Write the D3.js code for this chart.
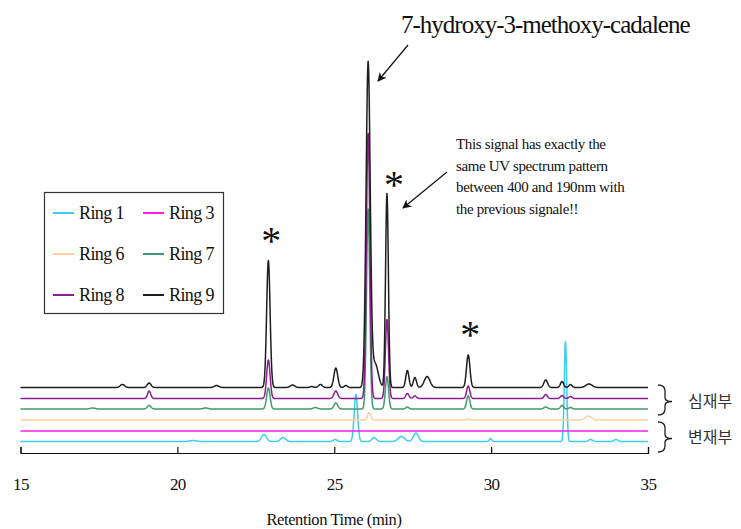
<!DOCTYPE html>
<html>
<head>
<meta charset="utf-8">
<script src="https://cdn.jsdelivr.net/npm/d3@7"></script>
<style>
  body { margin: 0; background: #fff; }
  svg { display: block; font-family: "Liberation Serif", "Times New Roman", serif; }
</style>
</head>
<body>
<svg id="chart"></svg>
<script>
// rings in legend order
const ringNames = ["Ring 1", "Ring 3", "Ring 6", "Ring 7", "Ring 8", "Ring 9"];
// stacked baseline of each trace (mAU above the axis)
const baselineOffsets = [11.5, 22, 33, 44, 54.5, 65.5];

// peak tables: [retention time (min), height (mAU), sigma (min)]
const ring1Peaks = [
  [20.5, 1, 0.1], [22.76, 7, 0.08], [23.37, 4, 0.08], [25.03, 2, 0.06], [25.69, 47, 0.055],
  [26.27, 4, 0.07], [27.14, 5, 0.1], [27.6, 8.5, 0.08], [29.98, 3, 0.04], [32.37, 100, 0.038],
  [33.17, 2, 0.06], [33.98, 2, 0.06]
];
const ring3Peaks = [];
const ring6Peaks = [[26.11, 7.5, 0.05], [29.27, 1, 0.05], [33.1, 4, 0.1]];
const ring7Peaks = [
  [17.3, 1, 0.08], [19.1, 3.5, 0.06], [20.9, 1, 0.08], [22.9, 21, 0.055], [24.4, 1.5, 0.07],
  [25.05, 6, 0.06], [26.08, 200, 0.05], [26.68, 32.5, 0.05], [27.33, 2, 0.05], [29.27, 13.3, 0.05],
  [31.74, 2, 0.06], [32.26, 3.6, 0.05], [32.53, 1.5, 0.05]
];
const ring8Peaks = [
  [19.1, 7.5, 0.05], [22.9, 38.5, 0.055], [25.05, 7.5, 0.06], [26.08, 265, 0.055],
  [26.68, 79, 0.05], [27.33, 5, 0.05], [27.57, 2.5, 0.05], [29.27, 12.5, 0.05],
  [31.74, 4, 0.05], [32.26, 3, 0.05], [32.53, 2, 0.05]
];
const ring9Peaks = [
  [18.25, 3, 0.07], [19.1, 4.5, 0.06], [21.25, 2, 0.07], [22.9, 127, 0.055], [23.67, 2.5, 0.07],
  [24.28, 1, 0.05], [24.56, 3, 0.06], [25.05, 19.5, 0.06], [25.37, 2, 0.05], [26.08, 324, 0.066],
  [26.3, 24, 0.1], [26.68, 194, 0.045], [27.33, 17, 0.05], [27.57, 10, 0.05], [27.96, 11, 0.09],
  [29.27, 32.5, 0.055], [31.74, 7.5, 0.06], [32.26, 6, 0.05], [32.53, 3, 0.05], [33.12, 3.5, 0.1]
];
const peakTables = [ring1Peaks, ring3Peaks, ring6Peaks, ring7Peaks, ring8Peaks, ring9Peaks];

const xTicks = [15, 20, 25, 30, 35];
const starredTimes = [22.9, 26.68, 29.27];
const compoundLabel = "7-hydroxy-3-methoxy-cadalene";
const noteLines = [
  "This signal has exactly the",
  "same UV spectrum pattern",
  "between 400 and 190nm with",
  "the previous signale!!"
];
const groupLabels = ["심재부", "변재부"];
const axisTitle = "Retention Time (min)";

const ringColors = ["#3ccdf4", "#ff1cf0", "#ffcf9e", "#3f9a6c", "#8d1d8e", "#1e1e1e"];

class Chromatogram {
  margin = { top: 53, right: 93, bottom: 76, left: 20.5 };

  constructor(svg, width = 741, height = 529) {
    this.svg = svg;
    this.width = width;
    this.height = height;
  }

  initialize() {
    this.svg = d3.select(this.svg)
      .attr("width", this.width)
      .attr("height", this.height);
    this.svg.append("rect").attr("width", this.width).attr("height", this.height).attr("fill", "#fff");

    const defs = this.svg.append("defs");
    defs.append("marker")
      .attr("id", "arrow")
      .attr("viewBox", "0 0 10 10")
      .attr("refX", 9).attr("refY", 5)
      .attr("markerWidth", 9).attr("markerHeight", 9)
      .attr("markerUnits", "userSpaceOnUse")
      .attr("orient", "auto")
      .append("path").attr("d", "M0,0 L10,5 L0,10 L3,5 z").attr("fill", "#111");

    this.xScale = d3.scaleLinear().domain([15, 35])
      .range([this.margin.left, this.width - this.margin.right]);
    this.yScale = d3.scaleLinear().domain([0, 400])
      .range([this.height - this.margin.bottom, this.margin.top]);
    this.zScale = d3.scaleOrdinal().domain(ringNames).range(ringColors);

    this.traces = this.svg.append("g");
    this.xAxis = this.svg.append("g");
    this.notes = this.svg.append("g");
    this.legend = this.svg.append("g");
  }

  signal(peaks, offset, t) {
    return offset + d3.sum(peaks, p => p[1] * Math.exp(-((t - p[0]) ** 2) / (2 * p[2] * p[2])));
  }

  update() {
    const times = d3.range(15, 35.0001, 0.01);
    const series = ringNames.map((name, i) => ({
      name,
      points: times.map(t => [t, this.signal(peakTables[i], baselineOffsets[i], t)])
    }));

    const line = d3.line().x(d => this.xScale(d[0])).y(d => this.yScale(d[1]));

    // legend order: Ring 9 ends up on top
    this.traces.selectAll("path")
      .data(series)
      .join("path")
      .attr("d", d => line(d.points))
      .attr("fill", "none")
      .attr("stroke", d => this.zScale(d.name))
      .attr("stroke-width", 1.5)
      .attr("stroke-linejoin", "round");

    // x axis, ticks pointing up into the plot
    this.xAxis
      .attr("transform", `translate(0, ${this.height - this.margin.bottom})`)
      .call(d3.axisBottom(this.xScale).tickValues(xTicks).tickSizeInner(-6).tickSizeOuter(-6).tickPadding(25));
    this.xAxis.select(".domain").attr("stroke", "#111").attr("stroke-width", 1.2);
    this.xAxis.selectAll(".tick line").attr("stroke", "#111").attr("stroke-width", 1.2);
    this.xAxis.selectAll(".tick text")
      .attr("font-family", "Liberation Serif, serif")
      .attr("font-size", 17).attr("letter-spacing", -0.6).attr("fill", "#111");

    this.svg.append("text")
      .attr("x", 334).attr("y", 525)
      .attr("text-anchor", "middle")
      .attr("font-size", 16.5).attr("letter-spacing", -0.4).attr("fill", "#111")
      .text(axisTitle);

    // asterisks above the marked Ring 9 peaks
    const black = peakTables[5], base9 = baselineOffsets[5];
    const starShift = [[3, 25], [7, 13], [2, 25]];
    this.notes.selectAll("text.star")
      .data(starredTimes)
      .join("text")
      .attr("class", "star")
      .attr("x", (t, i) => this.xScale(t) + starShift[i][0])
      .attr("y", (t, i) => this.yScale(this.signal(black, base9, t)) - starShift[i][1] + 18)
      .attr("text-anchor", "middle")
      .attr("font-size", 40).attr("fill", "#111")
      .text("*");

    // compound label + arrows
    this.notes.append("text")
      .attr("x", 401).attr("y", 33)
      .attr("font-size", 25).attr("letter-spacing", -1).attr("fill", "#111")
      .text(compoundLabel);
    this.notes.append("line")
      .attr("x1", 408).attr("y1", 45).attr("x2", 378).attr("y2", 81)
      .attr("stroke", "#111").attr("stroke-width", 1.2).attr("marker-end", "url(#arrow)");
    this.notes.append("line")
      .attr("x1", 447).attr("y1", 172).attr("x2", 403).attr("y2", 208)
      .attr("stroke", "#111").attr("stroke-width", 1.2).attr("marker-end", "url(#arrow)");
    this.notes.append("text")
      .attr("font-size", 15).attr("letter-spacing", -0.35).attr("fill", "#111")
      .selectAll("tspan")
      .data(noteLines)
      .join("tspan")
      .attr("x", 456)
      .attr("y", (d, i) => 149 + i * 21.6)
      .text(d => d);

    // braces for the two groups
    const braces = [[385, 415], [422, 452]];
    const bx = 658;
    this.notes.selectAll("path.brace")
      .data(braces)
      .join("path")
      .attr("class", "brace")
      .attr("fill", "none").attr("stroke", "#222").attr("stroke-width", 1.3)
      .attr("d", ([y1, y2]) => {
        const ym = (y1 + y2) / 2 + 1.5;
        return `M${bx},${y1} Q${bx + 7},${y1} ${bx + 7},${y1 + 6} L${bx + 7},${ym - 4} Q${bx + 7},${ym} ${bx + 14},${ym}` +
          ` Q${bx + 7},${ym} ${bx + 7},${ym + 4} L${bx + 7},${y2 - 6} Q${bx + 7},${y2} ${bx},${y2}`;
      });
    this.notes.selectAll("text.group")
      .data(groupLabels)
      .join("text")
      .attr("class", "group")
      .attr("x", 688)
      .attr("y", (d, i) => [407, 443][i])
      .attr("font-family", "Noto Sans CJK KR, sans-serif")
      .attr("font-size", 16).attr("fill", "#333")
      .text(d => d);

    // legend
    this.legend.append("rect")
      .attr("x", 44.5).attr("y", 192.5).attr("width", 179).attr("height", 121)
      .attr("fill", "#fff").attr("stroke", "#333").attr("stroke-width", 1.2);
    const item = this.legend.selectAll("g.item")
      .data(ringNames)
      .join("g")
      .attr("class", "item")
      .attr("transform", (d, i) => `translate(${i % 2 ? 143 : 53}, ${213 + Math.floor(i / 2) * 41})`);
    item.append("line")
      .attr("x1", 0).attr("x2", 21)
      .attr("stroke", d => this.zScale(d)).attr("stroke-width", 2);
    item.append("text")
      .attr("x", 26).attr("dy", "0.35em")
      .attr("font-size", 18).attr("letter-spacing", -0.6).attr("fill", "#111")
      .text(d => d);
  }
}

const chart = new Chromatogram(document.getElementById("chart"));
chart.initialize();
chart.update();
</script>
</body>
</html>
